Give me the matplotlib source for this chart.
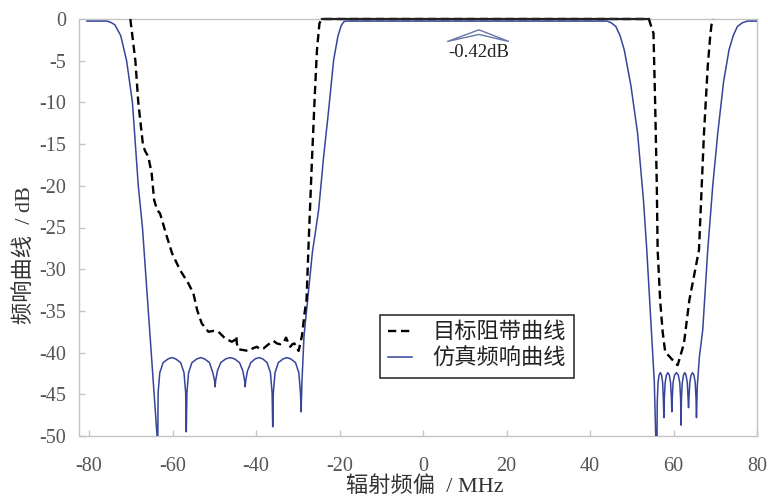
import numpy as np
import matplotlib
matplotlib.use("Agg")
import matplotlib.pyplot as plt
from matplotlib.patches import Polygon

# ---------------- data ----------------
# simulated response (blue), MHz / dB
sim_x = [-80.5, -75.7, -74.8, -73.8, -72.4, -71.0, -69.6, -68.9, -68.2, -67.2, -66.5, -65.1, -64.4, -63.7,
         -63.6, -63.45, -63.05, -62.25, -61.05, -60.15, -59.25, -58.05, -57.25, -56.85,
         -56.7, -56.55, -56.15, -55.35, -54.15, -53.25, -52.35, -51.15, -50.35, -49.95,
         -49.8, -49.65, -49.25, -48.45, -47.25, -46.2, -45.15, -43.95, -43.15, -42.75,
         -42.6, -42.45, -42.05, -41.25, -40.2, -39.3, -38.4, -37.35, -36.55, -36.15,
         -36.0, -35.85, -35.45, -34.65, -33.5, -32.6, -31.7, -30.55, -29.75, -29.35,
         -29.2, -29.0, -28.5, -27.6, -26.5, -25.0, -23.8, -22.6, -21.4, -20.4, -19.6, -19.0, -18.5,
         44.2, 45.2, 46.2, 47.2, 48.2, 49.8, 51.4, 52.8, 53.6, 54.7, 55.4,
         56.0, 56.1, 56.3, 56.55, 56.85, 57.15, 57.4, 57.6,
         57.7, 57.8, 58.0, 58.3, 58.65, 59.0, 59.3, 59.5,
         59.6, 59.7, 59.9, 60.25, 60.7, 61.15, 61.5, 61.7,
         61.8, 61.9, 62.1, 62.4, 62.7, 63.0, 63.3, 63.5,
         63.6, 63.7, 63.9, 64.2, 64.55, 64.9, 65.2, 65.4,
         65.5, 65.7, 66.2, 67.0, 68.2, 69.4, 70.6, 72.0, 73.3, 74.3, 75.3, 76.5, 77.7, 80.0]
sim_y = [-0.25, -0.25, -0.4, -0.7, -2.0, -5.0, -10.0, -15.0, -20.0, -25.0, -30.0, -40.0, -45.0, -50.0,
         -56.0, -44.8, -42.4, -41.2, -40.75, -40.6, -40.75, -41.2, -42.4, -44.8,
         -49.5, -44.8, -42.4, -41.2, -40.75, -40.6, -40.75, -41.2, -42.4, -43.3,
         -44.1, -43.3, -42.2, -41.2, -40.75, -40.6, -40.75, -41.2, -42.2, -43.3,
         -44.1, -43.3, -42.2, -41.2, -40.75, -40.6, -40.75, -41.2, -42.4, -44.8,
         -48.9, -44.8, -42.4, -41.2, -40.75, -40.6, -40.75, -41.2, -42.4, -44.8,
         -47.1, -43.5, -38.0, -33.5, -28.0, -22.9, -16.5, -10.9, -4.9, -2.1, -0.8, -0.35, -0.25,
         -0.25, -0.5, -0.9, -2.0, -3.7, -8.0, -13.7, -21.7, -27.7, -37.3, -43.5,
         -55.0, -46.0, -43.6, -42.7, -42.4, -42.7, -43.6, -46.0,
         -47.8, -45.5, -43.6, -42.7, -42.4, -42.7, -43.6, -45.5,
         -47.1, -45.5, -43.6, -42.7, -42.4, -42.7, -43.6, -45.5,
         -48.7, -45.5, -43.6, -42.7, -42.4, -42.7, -43.6, -45.5,
         -46.6, -45.5, -43.6, -42.7, -42.4, -42.7, -43.6, -45.5,
         -47.8, -44.0, -40.5, -37.3, -27.7, -20.0, -13.7, -7.5, -3.7, -2.0, -0.9, -0.45, -0.25, -0.25]

# target stop-band mask (black dashed)
tgt_x = [-70.1, -69.5, -68.9, -68.2, -67.1, -66.6, -65.8, -65.0, -64.4, -63.7, -63.0, -62.4, -61.6,
         -60.1, -58.2, -56.2, -55.0, -54.1, -53.0, -51.4, -50.2, -49.0, -47.4, -45.8, -45.1, -44.7,
         -44.6, -44.2, -43.0, -41.8, -40.8, -39.8, -39.0, -38.2, -37.0, -35.8, -35.0, -34.2, -33.4,
         -32.8, -32.3, -31.8, -31.3, -30.8, -30.3, -29.8, -29.4, -29.0, -28.3, -27.9, -27.4, -26.6,
         -25.9, -25.4, -24.8, -24.2,
         54.1, 54.6, 55.2, 55.6, 56.0, 56.2, 56.8, 57.4, 58.0, 58.9, 59.8, 60.4, 61.0, 61.7, 62.5,
         62.9, 63.8, 66.1, 67.3, 68.2, 68.8, 69.1, 69.4, 69.5]
tgt_y = [0.0, -2.5, -5.0, -10.0, -15.0, -15.8, -16.5, -18.5, -21.7, -22.9, -23.3, -24.3, -25.7,
         -28.1, -30.1, -31.7, -32.9, -34.9, -36.5, -37.5, -37.4, -37.5, -38.3, -38.7, -38.5, -38.0,
         -38.9, -39.6, -39.7, -39.8, -39.5, -39.3, -39.6, -39.5, -39.0, -38.6, -38.9, -39.0, -38.8,
         -38.2, -38.8, -39.3, -39.0, -38.9, -39.4, -39.8, -38.9, -38.0, -35.0, -33.7, -26.9, -16.9,
         -8.9, -3.7, -0.5, 0.0,
         0.0, -0.8, -1.7, -10.0, -20.0, -27.7, -33.7, -37.5, -39.9, -40.4, -40.9, -41.3, -41.5,
         -40.3, -38.9, -37.3, -33.7, -27.7, -13.7, -5.7, -2.0, -0.7, -0.2, 0.0]

x_ticks = [-80, -60, -40, -20, 0, 20, 40, 60, 80]
y_ticks = [0, -5, -10, -15, -20, -25, -30, -35, -40, -45, -50]
ripple_label = "-0.42dB"
ripple_x, ripple_y = 13.4, -4.0

# ---------------- plot ----------------
plt.rcParams['font.family'] = ['Liberation Serif', 'Noto Sans CJK SC', 'DejaVu Sans']

fig = plt.figure(figsize=(7.68, 4.99), dpi=100)
ax = fig.add_axes([79 / 768, 1 - 436 / 499, (757 - 79) / 768, (436 - 19) / 499])

blue = '#36449a'
tx = np.array(tgt_x)
ty = np.array(tgt_y)

ax.plot(sim_x, sim_y, color=blue, lw=1.1, label='仿真频响曲线', zorder=3)
ax.plot(tx, ty, color='black', lw=1.7, linestyle=(0, (3.5, 2.0)), label='目标阻带曲线',
        clip_on=False, zorder=4)
# flat pass-band of the mask drawn solid
flat = tx[(ty == 0) & (tx > -60) & (tx < 60)]
ax.plot([flat.min(), flat.max()], [0, 0], color='#222222', lw=1.6, clip_on=False, zorder=4)

ax.set_xlim(-82.4, 80)
ax.set_ylim(-50, 0)
ax.set_xticks(x_ticks)
ax.set_yticks(y_ticks)
ax.set_xticklabels([str(v) for v in x_ticks])
ax.set_yticklabels([str(v) for v in y_ticks])

for s in ax.spines.values():
    s.set_color('#c4c4c4')
    s.set_linewidth(1.0)
ax.tick_params(axis='both', direction='in', length=4, width=1, color='#c4c4c4',
               labelcolor='#555555', labelsize=14.5)
ax.tick_params(axis='x', pad=15)
ax.tick_params(axis='y', pad=9)

ax.set_xlabel('辐射频偏  / MHz', fontsize=16, color='#333333')
ax.set_ylabel('频响曲线  / dB', fontsize=16, color='#333333')
ax.xaxis.set_label_coords((425 - 79) / 678, -(487 - 436) / 417)
ax.yaxis.set_label_coords((25 - 79) / 678, (436 - 255) / 417)
ax.xaxis.label.set_va('center')
ax.yaxis.label.set_va('center')

# ripple marker
chev = Polygon([(5.8, -2.7), (13.4, -1.3), (20.6, -2.7), (13.4, -1.85)], closed=True,
               fill=False, edgecolor='#6878a8', lw=1.0, zorder=5)
ax.add_patch(chev)
ax.text(ripple_x, ripple_y, ripple_label, ha='center', va='center', fontsize=13.5, color='#222222')

handles, labels = ax.get_legend_handles_labels()
leg = ax.legend(handles[::-1], labels[::-1], loc='upper left',
                bbox_to_anchor=(369 / 768, 1 - 304 / 499), bbox_transform=fig.transFigure,
                fontsize=16, handlelength=1.1, labelspacing=0.25, handletextpad=0.9,
                borderpad=0.35, fancybox=False, framealpha=1, edgecolor='#222222')
leg.get_frame().set_linewidth(1.1)
for t in leg.get_texts():
    t.set_color('#222222')

fig.savefig('out.png', dpi=100)
